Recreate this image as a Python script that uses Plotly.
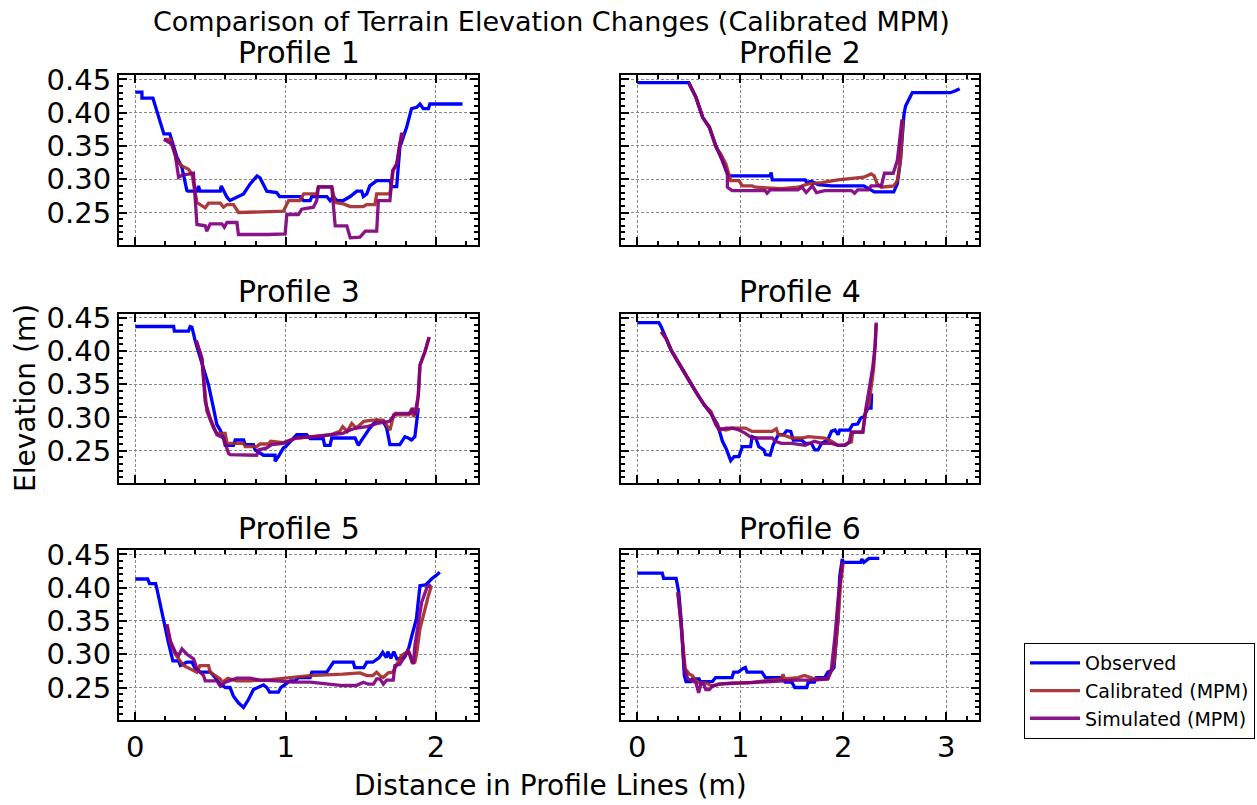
import plotly.graph_objects as go

# ---------------- data (distance m, elevation m) ----------------
profile_titles = ["Profile 1", "Profile 2", "Profile 3", "Profile 4", "Profile 5", "Profile 6"]
series_names = ["Observed", "Calibrated (MPM)", "Simulated (MPM)"]

p1_observed = [(0, 0.431), (0.044, 0.431), (0.044, 0.422), (0.117, 0.422), (0.19, 0.368), (0.23, 0.368),
               (0.277, 0.333), (0.31, 0.318), (0.343, 0.283), (0.35, 0.282), (0.41, 0.282), (0.42, 0.29),
               (0.43, 0.282), (0.565, 0.282), (0.572, 0.29), (0.61, 0.273), (0.63, 0.268), (0.675, 0.273),
               (0.72, 0.278), (0.764, 0.293), (0.81, 0.305), (0.83, 0.302), (0.875, 0.282), (0.94, 0.28),
               (0.96, 0.274), (1.096, 0.274), (1.12, 0.268), (1.163, 0.268), (1.174, 0.274), (1.274, 0.274),
               (1.296, 0.268), (1.318, 0.274), (1.34, 0.268), (1.384, 0.268), (1.43, 0.274), (1.473, 0.282),
               (1.506, 0.282), (1.517, 0.274), (1.54, 0.278), (1.56, 0.29), (1.606, 0.298), (1.694, 0.298),
               (1.705, 0.289), (1.739, 0.289), (1.76, 0.348), (1.805, 0.378), (1.838, 0.406), (1.872, 0.408),
               (1.894, 0.413), (1.916, 0.406), (1.95, 0.406), (1.96, 0.413), (1.994, 0.413), (2.177, 0.413)]
p1_calibrated = [(0.19, 0.36), (0.233, 0.36), (0.255, 0.343), (0.277, 0.328), (0.31, 0.32), (0.354, 0.315),
                 (0.377, 0.308), (0.41, 0.265), (0.465, 0.257), (0.487, 0.264), (0.565, 0.264), (0.587, 0.258),
                 (0.61, 0.262), (0.653, 0.262), (0.687, 0.25), (0.985, 0.252), (1.02, 0.268), (1.096, 0.268),
                 (1.12, 0.278), (1.207, 0.278), (1.218, 0.289), (1.307, 0.289), (1.33, 0.265), (1.384, 0.263),
                 (1.43, 0.259), (1.517, 0.259), (1.54, 0.262), (1.594, 0.262), (1.606, 0.278), (1.694, 0.278),
                 (1.716, 0.313), (1.739, 0.323), (1.76, 0.353), (1.78, 0.37)]
p1_simulated = [(0.19, 0.36), (0.243, 0.353), (0.265, 0.338), (0.288, 0.303), (0.31, 0.306), (0.376, 0.309),
                (0.387, 0.309), (0.41, 0.232), (0.465, 0.23), (0.476, 0.222), (0.498, 0.233), (0.576, 0.233),
                (0.592, 0.228), (0.61, 0.235), (0.676, 0.235), (0.686, 0.217), (0.786, 0.217), (0.81, 0.216),
                (0.886, 0.217), (0.997, 0.218), (1.008, 0.247), (1.085, 0.247), (1.107, 0.255), (1.185, 0.258),
                (1.207, 0.268), (1.218, 0.288), (1.307, 0.288), (1.33, 0.23), (1.407, 0.23), (1.43, 0.212),
                (1.495, 0.213), (1.53, 0.222), (1.606, 0.222), (1.617, 0.268), (1.694, 0.268), (1.712, 0.313),
                (1.74, 0.323), (1.772, 0.37)]

p2_observed = [(0, 0.445), (0.5, 0.445), (0.57, 0.423), (0.635, 0.393), (0.7, 0.378), (0.763, 0.35),
               (0.827, 0.328), (0.875, 0.308), (0.897, 0.305), (1.29, 0.305), (1.3, 0.31), (1.31, 0.299),
               (1.63, 0.299), (1.645, 0.295), (1.69, 0.297), (1.755, 0.292), (1.885, 0.29), (2.2, 0.29),
               (2.3, 0.281), (2.49, 0.281), (2.525, 0.293), (2.555, 0.328), (2.59, 0.398), (2.605, 0.41),
               (2.67, 0.43), (3.04, 0.43), (3.09, 0.433), (3.13, 0.436)]
p2_calibrated = [(0.5, 0.445), (0.57, 0.423), (0.635, 0.393), (0.7, 0.378), (0.763, 0.348), (0.81, 0.338),
                 (0.86, 0.323), (0.89, 0.305), (0.907, 0.298), (0.987, 0.298), (1.02, 0.29), (1.115, 0.29),
                 (1.147, 0.288), (1.4, 0.286), (1.56, 0.288), (1.66, 0.293), (1.79, 0.295), (1.95, 0.299),
                 (2.11, 0.302), (2.2, 0.303), (2.27, 0.308), (2.3, 0.305), (2.33, 0.293), (2.37, 0.288),
                 (2.49, 0.29), (2.525, 0.298), (2.555, 0.328), (2.58, 0.39)]
p2_simulated = [(0.5, 0.445), (0.57, 0.423), (0.635, 0.393), (0.7, 0.378), (0.763, 0.35), (0.827, 0.328),
                (0.875, 0.308), (0.875, 0.288), (0.92, 0.283), (1.24, 0.283), (1.26, 0.279), (1.29, 0.284),
                (1.56, 0.284), (1.6, 0.288), (1.64, 0.28), (1.7, 0.29), (1.74, 0.28), (1.82, 0.283),
                (2.08, 0.283), (2.11, 0.279), (2.14, 0.284), (2.24, 0.284), (2.27, 0.29), (2.37, 0.29),
                (2.4, 0.309), (2.485, 0.309), (2.525, 0.328), (2.57, 0.39)]

p3_observed = [(0, 0.437), (0.255, 0.437), (0.26, 0.43), (0.354, 0.43), (0.365, 0.437), (0.377, 0.436),
               (0.4, 0.414), (0.42, 0.399), (0.454, 0.374), (0.487, 0.349), (0.52, 0.314), (0.543, 0.289),
               (0.565, 0.281), (0.587, 0.269), (0.598, 0.258), (0.653, 0.258), (0.665, 0.266), (0.72, 0.266),
               (0.731, 0.259), (0.786, 0.259), (0.797, 0.251), (0.853, 0.243), (0.93, 0.243), (0.93, 0.234),
               (0.952, 0.241), (0.985, 0.254), (1.0, 0.256), (1.04, 0.266), (1.074, 0.274), (1.14, 0.274),
               (1.163, 0.268), (1.25, 0.268), (1.26, 0.258), (1.296, 0.258), (1.307, 0.269), (1.462, 0.269),
               (1.484, 0.258), (1.495, 0.262), (1.528, 0.274), (1.56, 0.284), (1.606, 0.296), (1.65, 0.294),
               (1.672, 0.284), (1.694, 0.259), (1.76, 0.259), (1.794, 0.271), (1.816, 0.269), (1.838, 0.266),
               (1.86, 0.271), (1.883, 0.314)]
p3_calibrated = [(0.405, 0.416), (0.443, 0.389), (0.476, 0.309), (0.52, 0.284), (0.543, 0.276), (0.598, 0.276),
                 (0.61, 0.261), (0.643, 0.261), (0.72, 0.261), (0.731, 0.256), (0.808, 0.256), (0.83, 0.26),
                 (0.886, 0.26), (0.9, 0.264), (0.985, 0.262), (1.07, 0.269), (1.16, 0.271), (1.3, 0.274),
                 (1.36, 0.279), (1.38, 0.286), (1.41, 0.279), (1.44, 0.291), (1.47, 0.284), (1.52, 0.294),
                 (1.58, 0.296), (1.65, 0.296), (1.672, 0.288), (1.694, 0.281), (1.72, 0.304), (1.82, 0.304),
                 (1.84, 0.314), (1.85, 0.301), (1.872, 0.309), (1.883, 0.334), (1.894, 0.379), (1.927, 0.399),
                 (1.955, 0.421)]
p3_simulated = [(0.405, 0.416), (0.443, 0.389), (0.465, 0.324), (0.498, 0.299), (0.543, 0.274), (0.587, 0.269),
                (0.62, 0.246), (0.63, 0.244), (0.808, 0.243), (0.82, 0.251), (0.875, 0.254), (0.907, 0.259),
                (0.985, 0.261), (1.07, 0.269), (1.2, 0.271), (1.3, 0.274), (1.38, 0.276), (1.43, 0.281),
                (1.47, 0.284), (1.54, 0.286), (1.61, 0.291), (1.69, 0.294), (1.73, 0.306), (1.83, 0.306),
                (1.85, 0.314), (1.86, 0.304), (1.883, 0.334), (1.894, 0.379), (1.927, 0.399), (1.955, 0.421)]

p4_observed = [(0, 0.443), (0.21, 0.443), (0.234, 0.436), (0.28, 0.419), (0.33, 0.401), (0.394, 0.384),
               (0.458, 0.366), (0.52, 0.351), (0.587, 0.334), (0.65, 0.319), (0.715, 0.306), (0.78, 0.289),
               (0.827, 0.264), (0.86, 0.254), (0.907, 0.235), (0.94, 0.241), (0.987, 0.241), (1.02, 0.256),
               (1.1, 0.256), (1.115, 0.271), (1.15, 0.269), (1.18, 0.256), (1.23, 0.251), (1.245, 0.244),
               (1.29, 0.243), (1.32, 0.259), (1.37, 0.274), (1.42, 0.274), (1.45, 0.28), (1.49, 0.279),
               (1.515, 0.266), (1.595, 0.266), (1.63, 0.261), (1.69, 0.261), (1.725, 0.251), (1.755, 0.251),
               (1.79, 0.261), (1.85, 0.266), (1.885, 0.279), (1.92, 0.281), (1.95, 0.274), (1.965, 0.281),
               (2.06, 0.281), (2.09, 0.289), (2.14, 0.29), (2.17, 0.299), (2.2, 0.301), (2.24, 0.314),
               (2.27, 0.314), (2.275, 0.336)]
p4_calibrated = [(0.234, 0.429), (0.28, 0.419), (0.33, 0.401), (0.394, 0.384), (0.458, 0.366), (0.52, 0.351),
                 (0.587, 0.334), (0.65, 0.319), (0.715, 0.309), (0.763, 0.291), (0.795, 0.284), (0.86, 0.281),
                 (0.923, 0.284), (1.05, 0.284), (1.115, 0.279), (1.31, 0.279), (1.35, 0.283), (1.37, 0.274),
                 (1.43, 0.273), (1.5, 0.269), (1.6, 0.269), (1.66, 0.271), (1.76, 0.269), (1.82, 0.269),
                 (1.885, 0.264), (1.95, 0.258), (2.02, 0.259), (2.08, 0.263), (2.09, 0.278), (2.19, 0.278),
                 (2.22, 0.311), (2.25, 0.319), (2.27, 0.344), (2.295, 0.374), (2.31, 0.409), (2.32, 0.441)]
p4_simulated = [(0.234, 0.429), (0.28, 0.419), (0.33, 0.401), (0.394, 0.384), (0.458, 0.366), (0.52, 0.351),
                (0.587, 0.334), (0.65, 0.319), (0.715, 0.306), (0.763, 0.289), (0.795, 0.281), (0.86, 0.284),
                (0.923, 0.284), (0.987, 0.281), (1.05, 0.276), (1.115, 0.269), (1.31, 0.269), (1.34, 0.264),
                (1.4, 0.261), (1.5, 0.261), (1.565, 0.259), (1.63, 0.258), (1.72, 0.264), (1.79, 0.261),
                (1.885, 0.261), (1.95, 0.258), (2.02, 0.258), (2.06, 0.264), (2.077, 0.278), (2.19, 0.278),
                (2.22, 0.314), (2.25, 0.344), (2.285, 0.374), (2.31, 0.409), (2.32, 0.443)]

p5_observed = [(0, 0.413), (0.082, 0.413), (0.095, 0.406), (0.135, 0.406), (0.144, 0.398), (0.166, 0.373),
               (0.188, 0.348), (0.22, 0.318), (0.25, 0.29), (0.288, 0.29), (0.3, 0.283), (0.343, 0.288),
               (0.377, 0.288), (0.4, 0.278), (0.432, 0.273), (0.5, 0.273), (0.52, 0.268), (0.565, 0.255),
               (0.6, 0.25), (0.63, 0.25), (0.653, 0.237), (0.686, 0.227), (0.72, 0.22), (0.753, 0.232),
               (0.786, 0.247), (0.82, 0.25), (0.853, 0.254), (0.875, 0.25), (0.893, 0.243), (0.952, 0.243),
               (0.968, 0.25), (1.0, 0.255), (1.03, 0.26), (1.063, 0.26), (1.085, 0.265), (1.163, 0.265),
               (1.175, 0.273), (1.274, 0.273), (1.296, 0.28), (1.318, 0.288), (1.45, 0.288), (1.46, 0.28),
               (1.52, 0.28), (1.54, 0.288), (1.58, 0.288), (1.623, 0.295), (1.646, 0.303), (1.67, 0.295),
               (1.68, 0.304), (1.7, 0.294), (1.72, 0.304), (1.74, 0.293), (1.79, 0.295), (1.82, 0.31),
               (1.84, 0.328), (1.87, 0.353), (1.894, 0.403), (1.93, 0.404), (1.95, 0.408), (1.97, 0.413),
               (2.0, 0.418), (2.026, 0.423)]
p5_calibrated = [(0.21, 0.345), (0.233, 0.318), (0.266, 0.3), (0.288, 0.293), (0.32, 0.283), (0.365, 0.278),
                 (0.41, 0.273), (0.43, 0.283), (0.487, 0.283), (0.498, 0.273), (0.565, 0.263), (0.58, 0.258),
                 (0.615, 0.264), (0.675, 0.26), (0.764, 0.26), (0.897, 0.262), (0.985, 0.264), (1.07, 0.265),
                 (1.163, 0.268), (1.38, 0.27), (1.495, 0.272), (1.54, 0.268), (1.58, 0.268), (1.606, 0.273),
                 (1.628, 0.268), (1.65, 0.265), (1.683, 0.272), (1.713, 0.273), (1.74, 0.285), (1.77, 0.298),
                 (1.817, 0.305), (1.84, 0.288), (1.86, 0.288), (1.87, 0.298), (1.894, 0.338), (1.915, 0.358),
                 (1.95, 0.388), (1.97, 0.403)]
p5_simulated = [(0.21, 0.345), (0.233, 0.32), (0.266, 0.303), (0.288, 0.298), (0.31, 0.308), (0.343, 0.3),
                (0.388, 0.293), (0.41, 0.278), (0.454, 0.268), (0.465, 0.26), (0.543, 0.26), (0.565, 0.252),
                (0.6, 0.258), (0.676, 0.264), (0.764, 0.264), (0.83, 0.261), (0.941, 0.26), (1.05, 0.258),
                (1.163, 0.258), (1.27, 0.255), (1.38, 0.253), (1.47, 0.253), (1.517, 0.258), (1.55, 0.255),
                (1.584, 0.255), (1.606, 0.263), (1.628, 0.263), (1.65, 0.255), (1.672, 0.261), (1.716, 0.261),
                (1.727, 0.283), (1.76, 0.285), (1.783, 0.293), (1.816, 0.305), (1.83, 0.298), (1.85, 0.285),
                (1.86, 0.313), (1.883, 0.348), (1.905, 0.378), (1.94, 0.4), (1.965, 0.405)]

p6_observed = [(0, 0.422), (0.243, 0.422), (0.256, 0.414), (0.377, 0.414), (0.403, 0.393), (0.425, 0.353),
               (0.457, 0.268), (0.473, 0.259), (0.52, 0.259), (0.535, 0.263), (0.6, 0.263), (0.61, 0.259),
               (0.73, 0.259), (0.76, 0.265), (0.92, 0.265), (0.936, 0.273), (0.98, 0.273), (1.02, 0.278),
               (1.05, 0.28), (1.067, 0.273), (1.21, 0.273), (1.244, 0.265), (1.4, 0.265), (1.436, 0.258),
               (1.5, 0.258), (1.53, 0.25), (1.645, 0.25), (1.66, 0.258), (1.72, 0.258), (1.737, 0.265),
               (1.82, 0.265), (1.85, 0.273), (1.885, 0.275), (1.91, 0.28), (1.95, 0.353), (1.965, 0.416),
               (1.99, 0.443), (2.0, 0.438), (2.17, 0.438), (2.18, 0.443), (2.2, 0.438), (2.23, 0.441),
               (2.25, 0.444), (2.35, 0.444)]
p6_calibrated = [(0.394, 0.393), (0.425, 0.348), (0.466, 0.278), (0.506, 0.27), (0.535, 0.268), (0.57, 0.26),
                 (0.6, 0.257), (0.665, 0.257), (0.73, 0.252), (0.79, 0.255), (0.92, 0.257), (1.08, 0.257),
                 (1.24, 0.26), (1.4, 0.263), (1.415, 0.27), (1.43, 0.263), (1.56, 0.265), (1.623, 0.268),
                 (1.72, 0.263), (1.85, 0.263), (1.885, 0.275), (1.91, 0.288), (1.95, 0.353), (1.975, 0.408),
                 (2.0, 0.438)]
p6_simulated = [(0.394, 0.393), (0.425, 0.348), (0.457, 0.278), (0.49, 0.263), (0.537, 0.26), (0.57, 0.257),
                (0.596, 0.242), (0.617, 0.255), (0.645, 0.255), (0.665, 0.247), (0.7, 0.247), (0.73, 0.252),
                (0.79, 0.255), (0.92, 0.256), (1.08, 0.257), (1.24, 0.259), (1.4, 0.26), (1.56, 0.261),
                (1.72, 0.261), (1.85, 0.263), (1.885, 0.278), (1.92, 0.328), (1.95, 0.383), (1.99, 0.438)]

y_tick_values = [0.25, 0.30, 0.35, 0.40, 0.45]
left_x_ticks = [0, 1, 2]
right_x_ticks = [0, 1, 2, 3]

# ---------------- layout / styling ----------------
FONT = "DejaVu Sans"
W, H = 1257, 805
series_colors = ["#0000ff", "#a52a2a", "#800080"]
series_opacity = [1.0, 0.92, 0.92]

all_profiles = [
    (p1_observed, p1_calibrated, p1_simulated),
    (p2_observed, p2_calibrated, p2_simulated),
    (p3_observed, p3_calibrated, p3_simulated),
    (p4_observed, p4_calibrated, p4_simulated),
    (p5_observed, p5_calibrated, p5_simulated),
    (p6_observed, p6_calibrated, p6_simulated),
]

col_px = [(119, 478), (621, 979)]
row_px = [(75, 245), (313.5, 483), (550, 720)]
x_ranges = [[-0.1085, 2.28], [-0.158, 3.318]]
y_range = [0.2012, 0.4566]

fig = go.Figure()
layout = dict(
    width=W, height=H, margin=dict(l=0, r=0, t=0, b=0, pad=0, autoexpand=False),
    paper_bgcolor="white", plot_bgcolor="white",
    font=dict(family=FONT, color="black"),
    showlegend=True,
)

annotations = []
for i in range(6):
    r, c = divmod(i, 2)
    suffix = "" if i == 0 else str(i + 1)
    xname, yname = "x" + suffix, "y" + suffix
    for s in range(3):
        pts = all_profiles[i][s]
        fig.add_trace(go.Scatter(
            x=[p[0] for p in pts], y=[p[1] for p in pts], mode="lines",
            line=dict(color=series_colors[s], width=3.3),
            opacity=series_opacity[s],
            name=series_names[s], legendgroup=series_names[s],
            showlegend=(i == 0), xaxis=xname, yaxis=yname,
        ))
    x0, x1 = col_px[c]
    yt, yb = row_px[r]
    common = dict(
        showline=True, linecolor="black", linewidth=2, mirror="ticks",
        ticks="inside", ticklen=8, tickwidth=1.5, tickcolor="black",
        showgrid=True, gridcolor="#8a8a8a", gridwidth=1, griddash="3px,2px",
        zeroline=False, automargin=False,
        tickfont=dict(family=FONT, size=29, color="black"),
    )
    layout["xaxis" + suffix] = dict(
        common, domain=[x0 / W, x1 / W], anchor=yname, range=x_ranges[c],
        tickmode="array", tickvals=(left_x_ticks if c == 0 else right_x_ticks),
        showticklabels=(r == 2),
        minor=dict(ticks="inside", ticklen=4, tickwidth=1.5, tickcolor="black",
                   dtick=0.2, tick0=0, showgrid=False),
    )
    layout["yaxis" + suffix] = dict(
        common, domain=[1 - yb / H, 1 - yt / H], anchor=xname, range=y_range,
        tickmode="array", tickvals=y_tick_values, ticktext=[f"{v:.2f}" for v in y_tick_values],
        showticklabels=(c == 0),
        minor=dict(ticks="inside", ticklen=4, tickwidth=1.5, tickcolor="black",
                   dtick=0.01, tick0=0, showgrid=False),
    )
    annotations.append(dict(
        text=profile_titles[i], xref="paper", yref="paper",
        x=(x0 + x1) / 2 / W, y=1 - (yt - 22) / H, xanchor="center", yanchor="middle",
        showarrow=False, font=dict(family=FONT, size=30, color="black"),
    ))

annotations.append(dict(
    text="Comparison of Terrain Elevation Changes (Calibrated MPM)", xref="paper", yref="paper",
    x=551 / W, y=1 - 22 / H, xanchor="center", yanchor="middle", showarrow=False,
    font=dict(family=FONT, size=27, color="black"),
))
annotations.append(dict(
    text="Distance in Profile Lines (m)", xref="paper", yref="paper",
    x=550 / W, y=1 - 785 / H, xanchor="center", yanchor="middle", showarrow=False,
    font=dict(family=FONT, size=28, color="black"),
))
annotations.append(dict(
    text="Elevation (m)", xref="paper", yref="paper", textangle=-90,
    x=25 / W, y=1 - 398 / H, xanchor="center", yanchor="middle", showarrow=False,
    font=dict(family=FONT, size=28, color="black"),
))
layout["annotations"] = annotations
layout["legend"] = dict(
    x=1024 / W, y=1 - 643 / H, xanchor="left", yanchor="top",
    bgcolor="white", bordercolor="black", borderwidth=1,
    font=dict(family=FONT, size=19, color="black"),
    tracegroupgap=0, itemwidth=50,
)
fig.update_layout(**layout)
fig.write_html("out.html")
